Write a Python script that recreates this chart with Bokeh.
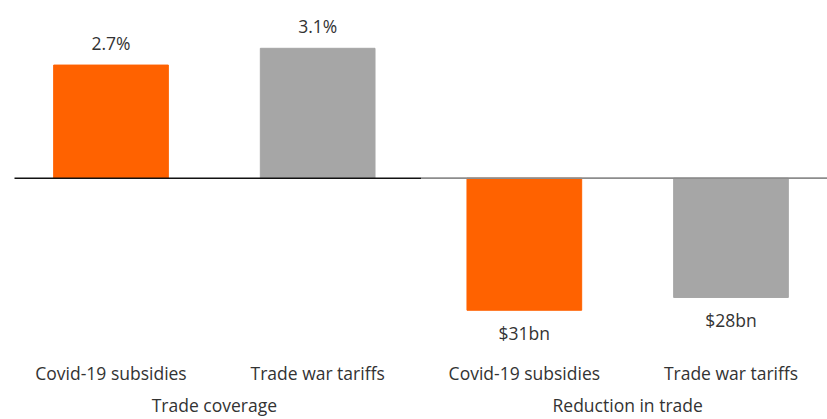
from bokeh.plotting import figure
from bokeh.models import FactorRange, Range1d, ColumnDataSource, LabelSet, CategoricalAxis
from bokeh.core.properties import value
from bokeh.embed import file_html
from bokeh.resources import INLINE

groups = ["Trade coverage", "Reduction in trade"]
measures = ["Covid-19 subsidies", "Trade war tariffs"]
coverage_pct = [2.7, 3.1]
reduction_bn = [31, 28]
coverage_labels = ["2.7%", "3.1%"]
reduction_labels = ["$31bn", "$28bn"]
colors = ["#FF6200", "#A6A6A6"]

FONT = "Open Sans"
TXT = "#333333"
FS = "17.5px"
PAD = -0.0165

factors = [(g, m) for g in groups for m in measures]
x_range = FactorRange(*factors, group_padding=0, range_padding=PAD)

p = figure(x_range=x_range, y_range=Range1d(-4.231, 4.241), width=827, height=419,
           output_backend="svg", toolbar_location=None,
           min_border_left=14, min_border_right=0, min_border_top=0, min_border_bottom=0)
p.extra_y_ranges = {"bn": Range1d(-41.62, 41.71)}
p.extra_x_ranges = {"grp": FactorRange(*groups, range_padding=PAD)}

left = ColumnDataSource(dict(x=[(groups[0], m) for m in measures], top=coverage_pct,
                             color=colors, label=coverage_labels))
right = ColumnDataSource(dict(x=[(groups[1], m) for m in measures],
                              top=[-v for v in reduction_bn], color=colors, label=reduction_labels))

p.vbar(x="x", top="top", bottom=0, width=0.555, color="color", source=left)
p.vbar(x="x", top="top", bottom=0, width=0.555, color="color", source=right, y_range_name="bn")

p.segment(x0=[(groups[0], measures[0], -0.5)], x1=[(groups[0], measures[1], 0.5)],
          y0=[0], y1=[0], line_color="#111111", line_width=1.5)
p.segment(x0=[(groups[1], measures[0], -0.5)], x1=[(groups[1], measures[1], 0.5)],
          y0=[0], y1=[0], line_color="#8c8c8c", line_width=1.8)

p.add_layout(LabelSet(x="x", y="top", text="label", source=left, y_offset=22,
                      text_align="center", text_baseline="middle", text_font=value(FONT),
                      text_font_size=value(FS), text_color=TXT))
p.add_layout(LabelSet(x="x", y="top", text="label", source=right, y_offset=-23,
                      y_range_name="bn", text_align="center", text_baseline="middle",
                      text_font=value(FONT), text_font_size=value(FS), text_color=TXT))

p.yaxis.visible = False
p.xgrid.grid_line_color = None
p.ygrid.grid_line_color = None
p.outline_line_color = None

ax = p.xaxis[0]
ax.axis_line_color = None
ax.major_tick_line_color = None
ax.major_tick_out = 0
ax.minor_tick_line_color = None
ax.separator_line_color = None
ax.major_label_standoff = 5
ax.major_label_text_font = FONT
ax.major_label_text_font_size = FS
ax.major_label_text_color = TXT
ax.group_text_font_size = "1px"
ax.group_text_color = None

gax = CategoricalAxis(x_range_name="grp")
gax.axis_line_color = None
gax.major_tick_line_color = None
gax.major_tick_out = 0
gax.minor_tick_line_color = None
gax.major_label_standoff = 5
gax.major_label_text_font = FONT
gax.major_label_text_font_size = FS
gax.major_label_text_color = TXT
p.add_layout(gax, "below")

open("out.html", "w").write(file_html(p, INLINE))
